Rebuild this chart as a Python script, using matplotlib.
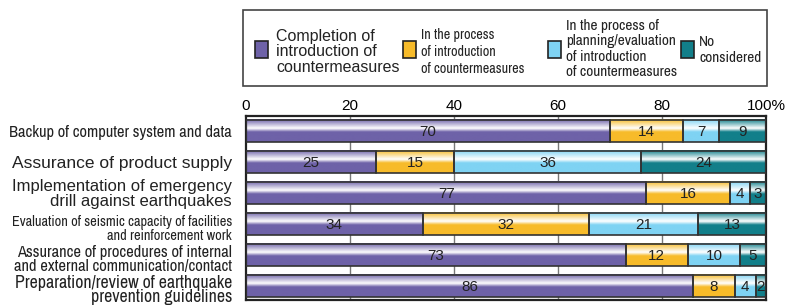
import numpy as np
import matplotlib
matplotlib.use("Agg")
import matplotlib.pyplot as plt
from matplotlib.colors import LinearSegmentedColormap
from matplotlib.patches import Rectangle
from matplotlib.transforms import ScaledTranslation
from matplotlib import font_manager as fm

categories = [
    "Backup of computer system and data",
    "Assurance of product supply",
    "Implementation of emergency\ndrill against earthquakes",
    "Evaluation of seismic capacity of facilities\nand reinforcement work",
    "Assurance of procedures of internal\nand external communication/contact",
    "Preparation/review of earthquake\nprevention guidelines",
]
series_names = [
    "Completion of\nintroduction of\ncountermeasures",
    "In the process\nof introduction\nof countermeasures",
    "In the process of\nplanning/evaluation\nof introduction\nof countermeasures",
    "No\nconsidered",
]
completion = [70, 25, 77, 34, 73, 86]
in_process = [14, 15, 16, 32, 12, 8]
planning = [7, 36, 4, 21, 10, 4]
not_considered = [9, 24, 3, 13, 5, 2]
tick_values = [0, 20, 40, 60, 80, 100]
tick_labels = ["0", "20", "40", "60", "80", "100%"]

colors = ["#6e62a8", "#f7bb2a", "#7fd3f3", "#127f8a"]

names = {f.name for f in fm.fontManager.ttflist}
narrow_pick = next((n for n in ["Liberation Sans Narrow", "Archivo Narrow", "Asap Condensed",
                                "Barlow Condensed"] if n in names), "DejaVu Sans")
NARROW = [narrow_pick, "DejaVu Sans"]
REG = ["Liberation Sans", "DejaVu Sans"]
plt.rcParams["font.family"] = REG

fig = plt.figure(figsize=(7.96, 3.07), dpi=100)
ax = fig.add_axes([246 / 796, 1 - 300 / 307, 520 / 796, 184 / 307])

y = np.arange(len(categories))
data = [completion, in_process, planning, not_considered]
left = np.zeros(len(categories))

def grad_cmap(c):
    return LinearSegmentedColormap.from_list(
        "g", [(0.0, c), (0.40, "#ffffff"), (0.56, c), (1.0, c)])

grad = np.linspace(0, 1, 64).reshape(-1, 1)

for vals, col in zip(data, colors):
    bars = ax.barh(y, vals, left=left, height=0.72, facecolor="none",
                   edgecolor="#333333", linewidth=1.2, zorder=3)
    cm = grad_cmap(col)
    for b, v in zip(bars, vals):
        x0, y0 = b.get_x(), b.get_y()
        w, h = b.get_width(), b.get_height()
        ax.imshow(grad, extent=[x0, x0 + w, y0 + h, y0], aspect="auto",
                  cmap=cm, zorder=2, interpolation="bilinear")
        ax.text(x0 + w / 2, y0 + h / 2 + 0.03, str(v), ha="center", va="center",
                fontsize=11, color="#222222", family=REG, zorder=4)
    left = left + np.array(vals)

ax.set_xlim(0, 100)
ax.set_ylim(len(categories) - 0.55, -0.48)
ax.set_xticks(tick_values)
ax.set_xticklabels(tick_labels, family=REG, fontsize=11)
ax.xaxis.tick_top()
ax.tick_params(axis="x", length=0, pad=2)
for xv in tick_values[1:-1]:
    ax.axvline(xv, color="#777777", linewidth=1, zorder=1)

ax.set_yticks(y)
ax.set_yticklabels(categories)
ax.tick_params(axis="y", length=0, pad=10)
sizes = [11.8, 12.5, 12, 10.3, 11.9, 12.8]
fams = [NARROW, REG, REG, NARROW, NARROW, NARROW]
spacings = [1.0, 1.0, 1.0, 0.93, 0.93, 0.85]
shifts = [0, 0, 0, 4, 3, 3]
for t, s, f, ls, sh in zip(ax.get_yticklabels(), sizes, fams, spacings, shifts):
    t.set_fontsize(s)
    t.set_family(f)
    t.set_linespacing(ls)
    t.set_color("#222222")
    if sh:
        t.set_transform(t.get_transform() + ScaledTranslation(0, -sh / 100, fig.dpi_scale_trans))

for sp in ax.spines.values():
    sp.set_linewidth(1.6)
    sp.set_color("#222222")
ax.set_facecolor("white")

# legend box drawn in figure pixel coordinates
W, H = 796, 307
def fx(px):
    return px / W
def fy(py):
    return 1 - py / H

fig.patches.append(Rectangle((fx(243), fy(86)), fx(767) - fx(243), fy(10) - fy(86),
                             transform=fig.transFigure, facecolor="white",
                             edgecolor="#444444", linewidth=1.2))
sq_x = [255, 403, 548, 681]
txt_x = [276, 421, 566, 699]
lsizes = [11.5, 10.2, 11, 11]
lfams = [REG, NARROW, NARROW, NARROW]
lspace = [1.03, 1.3, 1.13, 1.22]
lcenter = [52, 52, 49, 50]
for i, (name, col) in enumerate(zip(series_names, colors)):
    fig.patches.append(Rectangle((fx(sq_x[i]), fy(58)), 13 / W, 17 / H,
                                 transform=fig.transFigure, facecolor=col,
                                 edgecolor="#222222", linewidth=1.2))
    fig.text(fx(txt_x[i]), fy(lcenter[i]), name, ha="left", va="center",
             fontsize=lsizes[i], family=lfams[i], linespacing=lspace[i], color="#222222")

fig.savefig("out.png", dpi=100)
